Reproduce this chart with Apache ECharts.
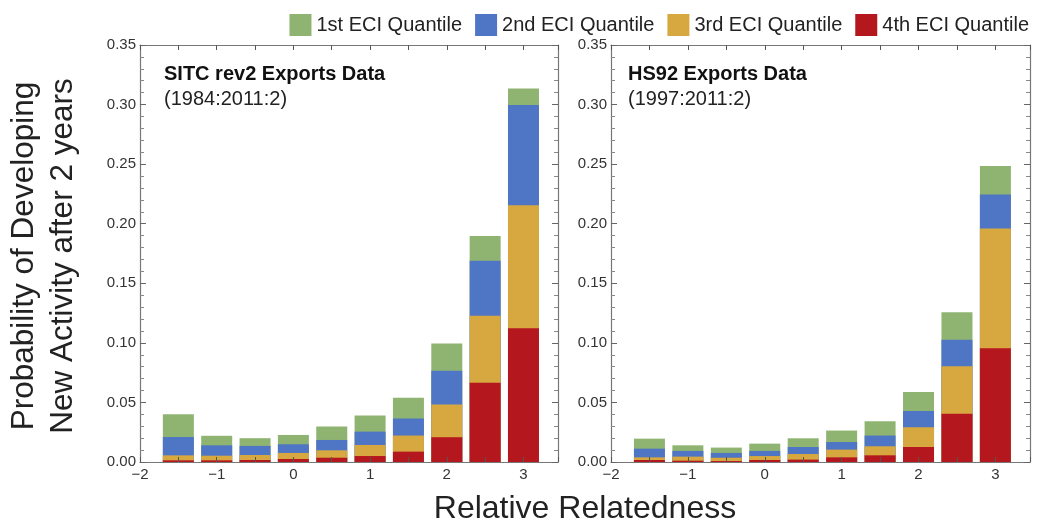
<!DOCTYPE html>
<html>
<head>
<meta charset="utf-8">
<script src="https://cdn.jsdelivr.net/npm/echarts@6/dist/echarts.min.js"></script>
<style>
  html, body { margin: 0; padding: 0; background: #fff; }
  #app { width: 1037px; height: 526px; }
</style>
</head>
<body>
<div id="app"></div>
<script>
// bar centres (relative relatedness bins)
const bins = [-1.5, -1, -0.5, 0, 0.5, 1, 1.5, 2, 2.5, 3];
const quantiles = ["1st ECI Quantile", "2nd ECI Quantile", "3rd ECI Quantile", "4th ECI Quantile"];
const colors = ["#8fb472", "#4f75c5", "#d7a840", "#b5171f"];

// SITC rev2 panel, per-quantile segment heights
const sitcQ1 = [0.019, 0.008, 0.0065, 0.0078, 0.0113, 0.0135, 0.0175, 0.0228, 0.0207, 0.0138];
const sitcQ2 = [0.0154, 0.0087, 0.0076, 0.0073, 0.0087, 0.0112, 0.0143, 0.0283, 0.0463, 0.0842];
const sitcQ3 = [0.0042, 0.0039, 0.0042, 0.0051, 0.0062, 0.0093, 0.0135, 0.0275, 0.0562, 0.1032];
const sitcQ4 = [0.0014, 0.0014, 0.0017, 0.0025, 0.0036, 0.005, 0.0087, 0.0208, 0.0665, 0.1123];

// HS92 panel
const hsQ1 = [0.0084, 0.0047, 0.0045, 0.0061, 0.0073, 0.0096, 0.012, 0.0158, 0.023, 0.0239];
const hsQ2 = [0.0073, 0.0048, 0.004, 0.0043, 0.0059, 0.0064, 0.009, 0.0137, 0.0224, 0.0286];
const hsQ3 = [0.0022, 0.0034, 0.0028, 0.0033, 0.0047, 0.0065, 0.0076, 0.0166, 0.0399, 0.1005];
const hsQ4 = [0.0017, 0.0011, 0.0008, 0.0017, 0.002, 0.0039, 0.0056, 0.0126, 0.0404, 0.0954];

const font = "'Liberation Sans', Arial, Helvetica, sans-serif";
const axisColor = "#777";
const labelColor = "#333";

function xAxes(gridIndex) {
  const base = {
    type: "value",
    gridIndex,
    min: -2,
    max: 3.45,
    interval: 1,
    z: 5,
    splitLine: { show: false },
    axisLine: { show: true, onZero: false, lineStyle: { color: axisColor, width: 1.2 } },
    axisTick: { show: true, inside: true, length: 5, lineStyle: { color: "#555" } },
    minorTick: { show: true, splitNumber: 2, length: 5, lineStyle: { color: "#555" } }
  };
  return [
    Object.assign({}, base, {
      position: "bottom",
      axisLabel: {
        show: true,
        showMaxLabel: false,
        color: labelColor,
        fontSize: 15,
        fontFamily: font,
        margin: 5,
        formatter: v => (Number.isInteger(v) ? (v < 0 ? "\u2212" + Math.abs(v) : String(v)) : "")
      }
    }),
    Object.assign({}, base, { position: "top", axisLabel: { show: false } })
  ];
}

function yAxes(gridIndex) {
  const base = {
    type: "value",
    gridIndex,
    min: 0,
    max: 0.35,
    interval: 0.05,
    z: 5,
    splitLine: { show: false },
    axisLine: { show: true, onZero: false, lineStyle: { color: axisColor, width: 1.2 } },
    axisTick: { show: true, inside: true, length: 6, lineStyle: { color: "#666" } },
    minorTick: { show: true, splitNumber: 5, length: 4, lineStyle: { color: "#888" } }
  };
  return [
    Object.assign({}, base, {
      position: "left",
      axisLabel: { color: labelColor, fontSize: 15, fontFamily: font, margin: 4, formatter: v => v.toFixed(2) }
    }),
    Object.assign({}, base, { position: "right", axisLabel: { show: false } })
  ];
}

// overlapping bars: each bar reaches the cumulative top of its quantile,
// tallest (1st) drawn first so the lower quantiles sit on top of it
function panelSeries(values, axisIndex) {
  return [0, 1, 2, 3].map(q => ({
    name: quantiles[q],
    type: "bar",
    xAxisIndex: axisIndex,
    yAxisIndex: axisIndex,
    barWidth: 31,
    barGap: "-100%",
    itemStyle: { color: colors[q] },
    data: bins.map((b, i) => {
      let top = 0;
      for (let k = q; k < 4; k++) top += values[k][i];
      return [b, top];
    })
  }));
}

const chart = echarts.init(document.getElementById("app"));

chart.setOption({
  backgroundColor: "#fff",
  animation: false,
  textStyle: { fontFamily: font },
  legend: {
    data: quantiles,
    top: 9,
    right: 3,
    itemWidth: 22,
    itemHeight: 22,
    itemGap: 13,
    icon: "rect",
    textStyle: { fontSize: 20, color: "#222", fontFamily: font }
  },
  grid: [
    { left: 140, top: 45, width: 418, height: 417 },
    { left: 611, top: 45, width: 419, height: 417 }
  ],
  xAxis: xAxes(0).concat(xAxes(1)),
  yAxis: yAxes(0).concat(yAxes(1)),
  graphic: [
    {
      type: "text",
      x: 44,
      y: 256,
      rotation: Math.PI / 2,
      style: {
        text: "Probability of Developing\nNew Activity after 2 years",
        font: "31.5px " + font,
        fill: "#222",
        align: "center",
        verticalAlign: "middle",
        lineHeight: 39
      }
    },
    {
      type: "text",
      x: 585,
      y: 509,
      style: { text: "Relative Relatedness", font: "32px " + font, fill: "#222", align: "center", verticalAlign: "middle" }
    },
    { type: "text", x: 164, y: 64, style: { text: "SITC rev2 Exports Data", font: "bold 20px " + font, fill: "#111" } },
    { type: "text", x: 164, y: 89, style: { text: "(1984:2011:2)", font: "20px " + font, fill: "#222" } },
    { type: "text", x: 628, y: 64, style: { text: "HS92 Exports Data", font: "bold 20px " + font, fill: "#111" } },
    { type: "text", x: 628, y: 89, style: { text: "(1997:2011:2)", font: "20px " + font, fill: "#222" } }
  ],
  series: panelSeries([sitcQ1, sitcQ2, sitcQ3, sitcQ4], 0)
    .concat(panelSeries([hsQ1, hsQ2, hsQ3, hsQ4], 2))
});
</script>
</body>
</html>
